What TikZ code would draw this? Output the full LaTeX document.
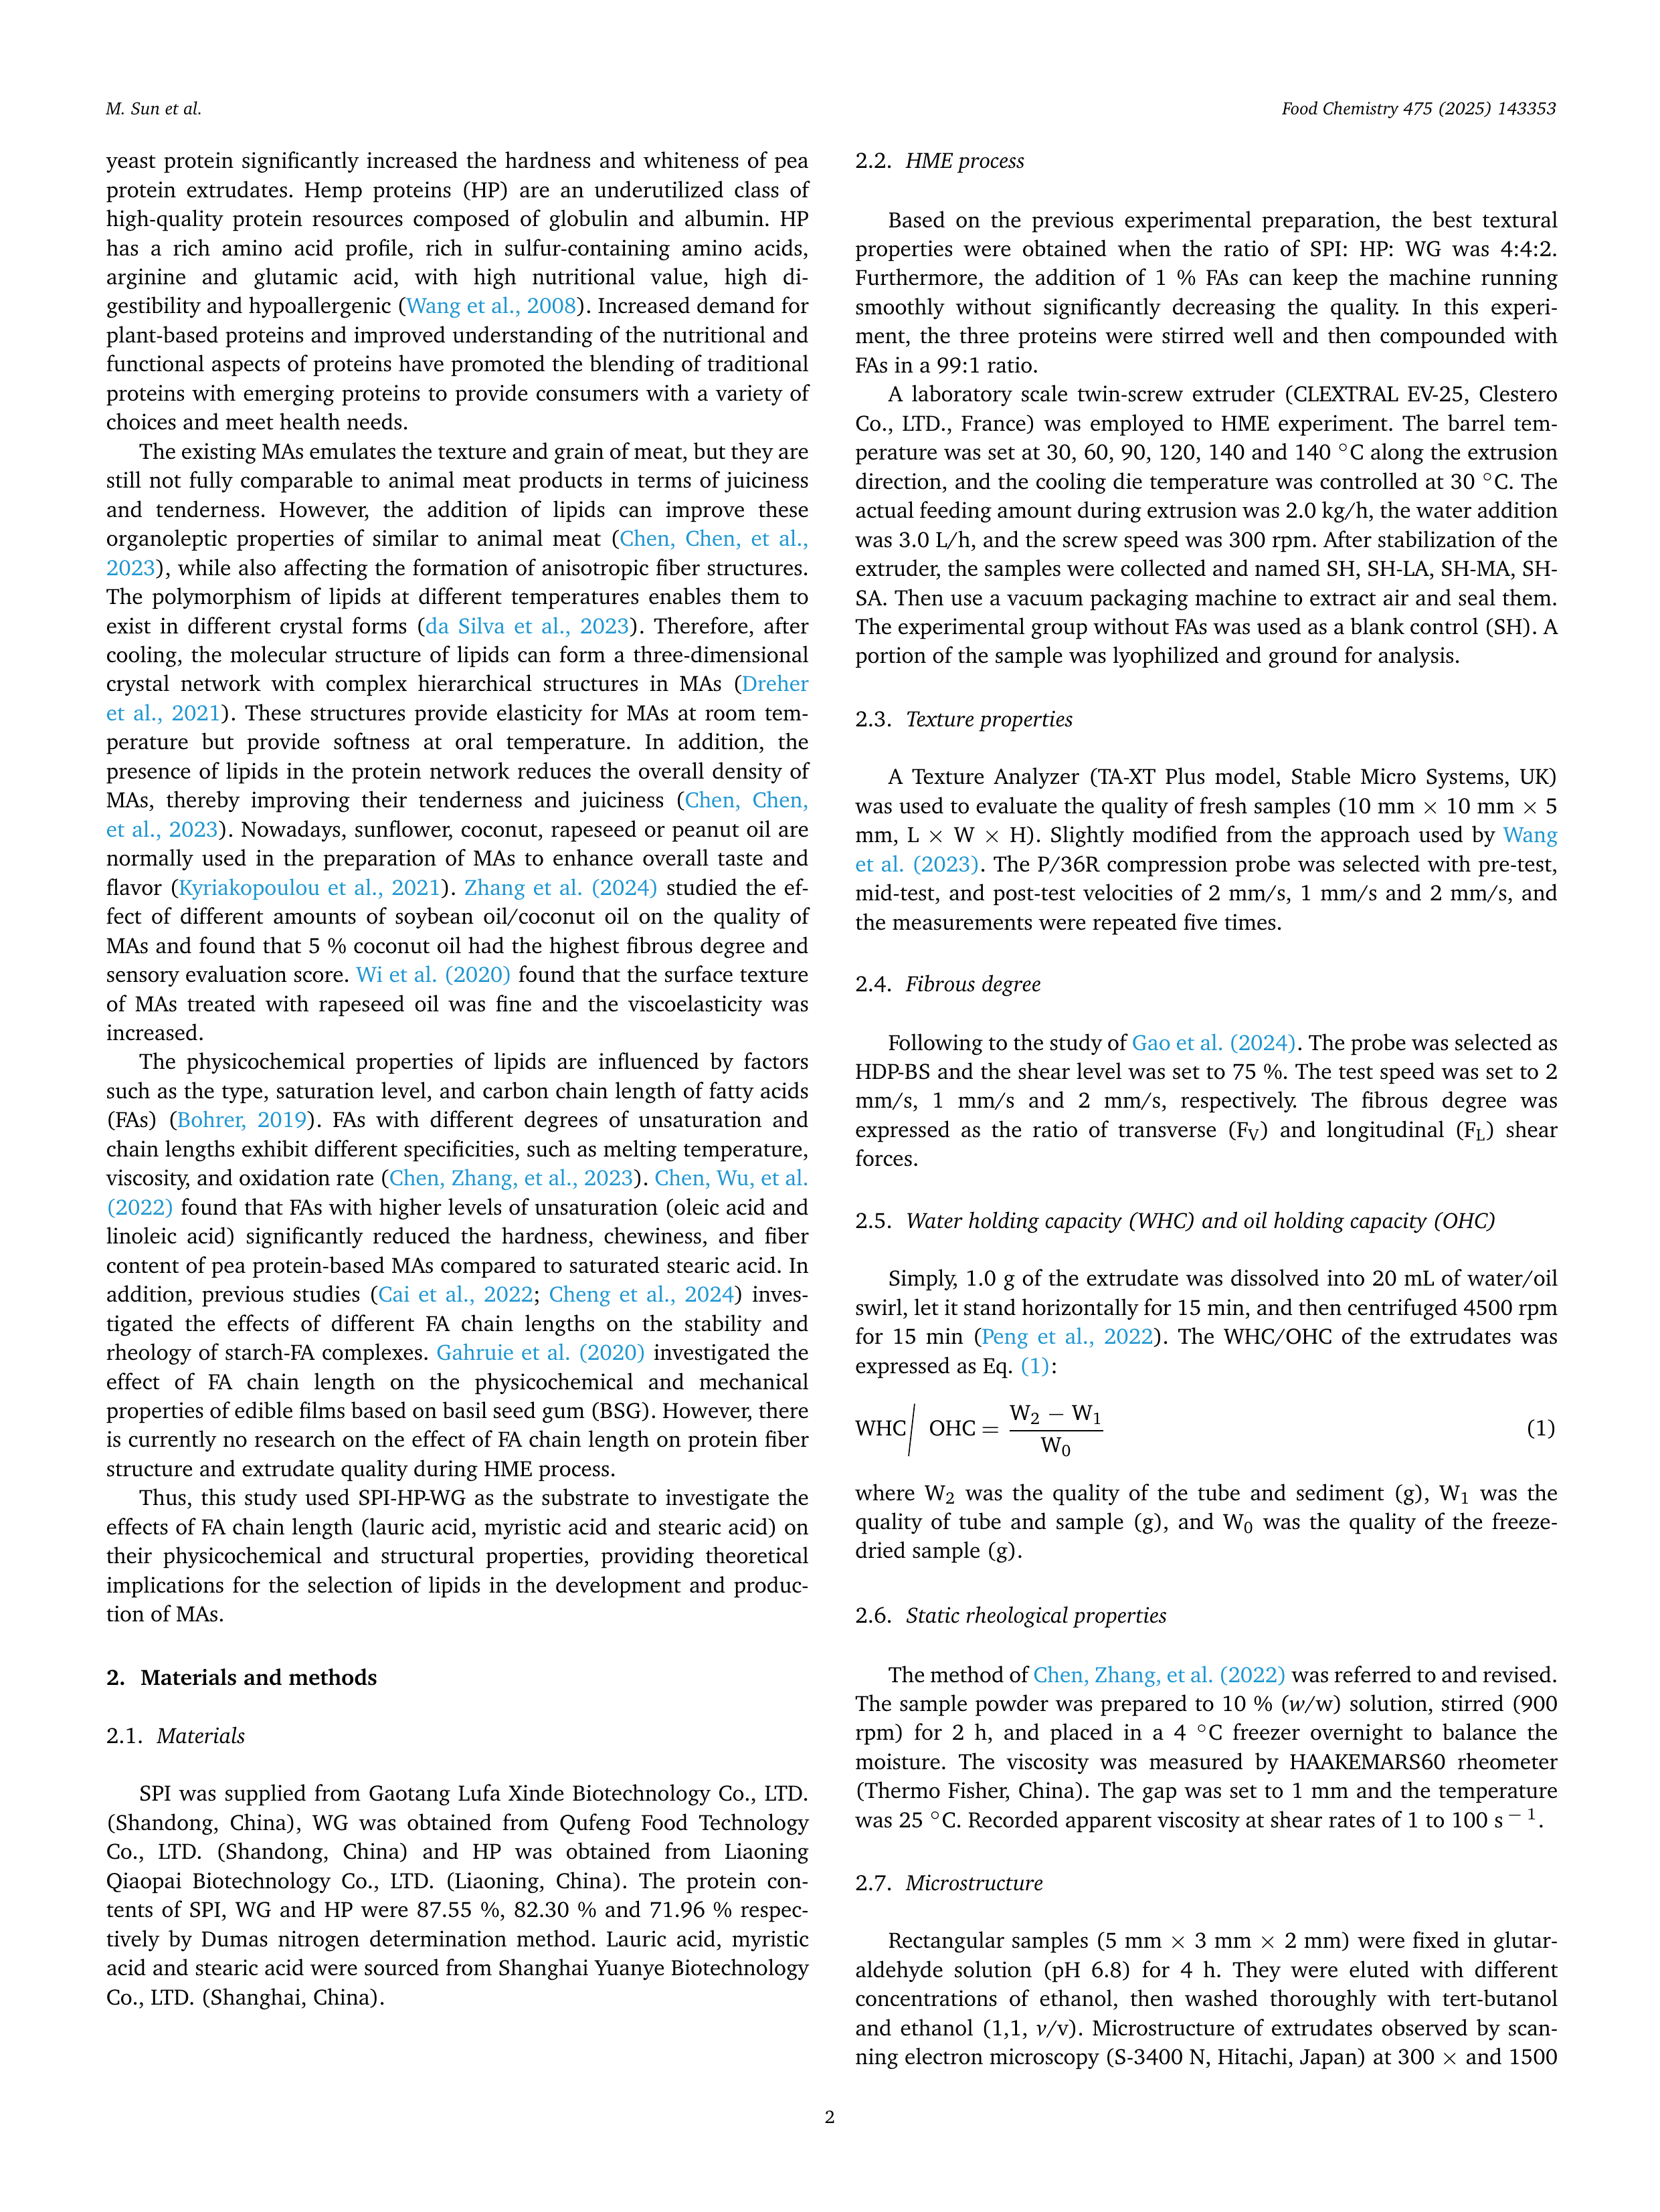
\documentclass[tikz,border=0pt]{standalone}
\usepackage[T1]{fontenc}
\usepackage{charter}
\usepackage{xcolor}
\definecolor{linkblue}{RGB}{30,150,210}
\newlength\colw
\setlength\colw{8.89cm}
\newcommand\jl[1]{\hbox to\colw{#1}}
\newcommand\el[1]{\hbox to\colw{#1\hfil}}
\newcommand\parin{\hspace*{0.418cm}}
\newcommand\lk[1]{\textcolor{linkblue}{#1}}
\newcommand\bodyfont{\fontsize{8}{10.47}\selectfont\frenchspacing}
\newcommand\subnum[1]{\makebox[0.645cm][l]{#1}}
\newcommand\secnum[1]{\makebox[0.436cm][l]{#1}}
\newcommand\divslash{\raisebox{-7.2pt}{\rotatebox{-6.5}{\rule{0.4pt}{19pt}}}}

\begin{document}
\begin{tikzpicture}[body/.style={anchor=base west,inner sep=0pt,font=\bodyfont},runhead/.style={inner sep=0pt,font=\fontsize{6.4}{8}\selectfont\itshape}]

\fill[white] (0,0) rectangle (21,-28);
\useasboundingbox (0,0) rectangle (21,-28);

\node[runhead,anchor=base west] (authors) at (1.338,-1.454) {M. Sun et al.};
\node[runhead,anchor=base east] (journal) at (19.707,-1.454) {Food Chemistry 475 (2025) 143353};

\node[body] (intro) at (1.338,-2.131) {\vtop{%
\jl{yeast protein significantly increased the hardness and whiteness of pea}
\jl{protein extrudates. Hemp proteins (HP) are an underutilized class of}
\jl{high-quality protein resources composed of globulin and albumin. HP}
\jl{has a rich amino acid profile, rich in sulfur-containing amino acids,}
\jl{arginine and glutamic acid, with high nutritional value, high di-}
\jl{gestibility and hypoallergenic (\lk{Wang et al., 2008}). Increased demand for}
\jl{plant-based proteins and improved understanding of the nutritional and}
\jl{functional aspects of proteins have promoted the blending of traditional}
\jl{proteins with emerging proteins to provide consumers with a variety of}
\el{choices and meet health needs.}
\jl{\parin The existing MAs emulates the texture and grain of meat, but they are}
\jl{still not fully comparable to animal meat products in terms of juiciness}
\jl{and tenderness. However, the addition of lipids can improve these}
\jl{organoleptic properties of similar to animal meat (\lk{Chen, Chen, et al.,}}
\jl{\lk{2023}), while also affecting the formation of anisotropic fiber structures.}
\jl{The polymorphism of lipids at different temperatures enables them to}
\jl{exist in different crystal forms (\lk{da Silva et al., 2023}). Therefore, after}
\jl{cooling, the molecular structure of lipids can form a three-dimensional}
\jl{crystal network with complex hierarchical structures in MAs (\lk{Dreher}}
\jl{\lk{et al., 2021}). These structures provide elasticity for MAs at room tem-}
\jl{perature but provide softness at oral temperature. In addition, the}
\jl{presence of lipids in the protein network reduces the overall density of}
\jl{MAs, thereby improving their tenderness and juiciness (\lk{Chen, Chen,}}
\jl{\lk{et al., 2023}). Nowadays, sunflower, coconut, rapeseed or peanut oil are}
\jl{normally used in the preparation of MAs to enhance overall taste and}
\jl{flavor (\lk{Kyriakopoulou et al., 2021}). \lk{Zhang et al. (2024)} studied the ef-}
\jl{fect of different amounts of soybean oil/coconut oil on the quality of}
\jl{MAs and found that 5 \% coconut oil had the highest fibrous degree and}
\jl{sensory evaluation score. \lk{Wi et al. (2020)} found that the surface texture}
\jl{of MAs treated with rapeseed oil was fine and the viscoelasticity was}
\el{increased.}
\jl{\parin The physicochemical properties of lipids are influenced by factors}
\jl{such as the type, saturation level, and carbon chain length of fatty acids}
\jl{(FAs) (\lk{Bohrer, 2019}). FAs with different degrees of unsaturation and}
\jl{chain lengths exhibit different specificities, such as melting temperature,}
\jl{viscosity, and oxidation rate (\lk{Chen, Zhang, et al., 2023}). \lk{Chen, Wu, et al.}}
\jl{\lk{(2022)} found that FAs with higher levels of unsaturation (oleic acid and}
\jl{linoleic acid) significantly reduced the hardness, chewiness, and fiber}
\jl{content of pea protein-based MAs compared to saturated stearic acid. In}
\jl{addition, previous studies (\lk{Cai et al., 2022}; \lk{Cheng et al., 2024}) inves-}
\jl{tigated the effects of different FA chain lengths on the stability and}
\jl{rheology of starch-FA complexes. \lk{Gahruie et al. (2020)} investigated the}
\jl{effect of FA chain length on the physicochemical and mechanical}
\jl{properties of edible films based on basil seed gum (BSG). However, there}
\jl{is currently no research on the effect of FA chain length on protein fiber}
\el{structure and extrudate quality during HME process.}
\jl{\parin Thus, this study used SPI-HP-WG as the substrate to investigate the}
\jl{effects of FA chain length (lauric acid, myristic acid and stearic acid) on}
\jl{their physicochemical and structural properties, providing theoretical}
\jl{implications for the selection of lipids in the development and produc-}
\el{tion of MAs.}}};

\node[body] (sec2) at (1.338,-21.332) {\bfseries\secnum{2.}Materials and methods};
\node[body] (sub21) at (1.338,-22.072) {\subnum{2.1.}\textit{Materials}};
\node[body] (materials) at (1.338,-22.801) {\vtop{%
\jl{\parin SPI was supplied from Gaotang Lufa Xinde Biotechnology Co., LTD.}
\jl{(Shandong, China), WG was obtained from Qufeng Food Technology}
\jl{Co., LTD. (Shandong, China) and HP was obtained from Liaoning}
\jl{Qiaopai Biotechnology Co., LTD. (Liaoning, China). The protein con-}
\jl{tents of SPI, WG and HP were 87.55 \%, 82.30 \% and 71.96 \% respec-}
\jl{tively by Dumas nitrogen determination method. Lauric acid, myristic}
\jl{acid and stearic acid were sourced from Shanghai Yuanye Biotechnology}
\el{Co., LTD. (Shanghai, China).}}};

\node[body] (sub22) at (10.817,-2.131) {\subnum{2.2.}\textit{HME process}};
\node[body] (hme) at (10.817,-2.879) {\vtop{%
\jl{\parin Based on the previous experimental preparation, the best textural}
\jl{properties were obtained when the ratio of SPI: HP: WG was 4:4:2.}
\jl{Furthermore, the addition of 1 \% FAs can keep the machine running}
\jl{smoothly without significantly decreasing the quality. In this experi-}
\jl{ment, the three proteins were stirred well and then compounded with}
\el{FAs in a 99:1 ratio.}
\jl{\parin A laboratory scale twin-screw extruder (CLEXTRAL EV-25, Clestero}
\jl{Co., LTD., France) was employed to HME experiment. The barrel tem-}
\jl{perature was set at 30, 60, 90, 120, 140 and 140 $^{\circ}$C along the extrusion}
\jl{direction, and the cooling die temperature was controlled at 30 $^{\circ}$C. The}
\jl{actual feeding amount during extrusion was 2.0 kg/h, the water addition}
\jl{was 3.0 L/h, and the screw speed was 300 rpm. After stabilization of the}
\jl{extruder, the samples were collected and named SH, SH-LA, SH-MA, SH-}
\jl{SA. Then use a vacuum packaging machine to extract air and seal them.}
\jl{The experimental group without FAs was used as a blank control (SH). A}
\el{portion of the sample was lyophilized and ground for analysis.}}};

\node[body] (sub23) at (10.817,-9.201) {\subnum{2.3.}\textit{Texture properties}};
\node[body] (texture) at (10.817,-9.931) {\vtop{%
\jl{\parin A Texture Analyzer (TA-XT Plus model, Stable Micro Systems, UK)}
\jl{was used to evaluate the quality of fresh samples (10 mm $\times$ 10 mm $\times$ 5}
\jl{mm, L $\times$ W $\times$ H). Slightly modified from the approach used by \lk{Wang}}
\jl{\lk{et al. (2023)}. The P/36R compression probe was selected with pre-test,}
\jl{mid-test, and post-test velocities of 2 mm/s, 1 mm/s and 2 mm/s, and}
\el{the measurements were repeated five times.}}};

\node[body] (sub24) at (10.817,-12.556) {\subnum{2.4.}\textit{Fibrous degree}};
\node[body] (fibrous) at (10.817,-13.293) {\vtop{%
\jl{\parin Following to the study of \lk{Gao et al. (2024)}. The probe was selected as}
\jl{HDP-BS and the shear level was set to 75 \%. The test speed was set to 2}
\jl{mm/s, 1 mm/s and 2 mm/s, respectively. The fibrous degree was}
\jl{expressed as the ratio of transverse (F\textsubscript{V}) and longitudinal (F\textsubscript{L}) shear}
\el{forces.}}};

\node[body] (sub25) at (10.817,-15.551) {\subnum{2.5.}\textit{Water holding capacity (WHC) and oil holding capacity (OHC)}};
\node[body] (holding) at (10.817,-16.281) {\vtop{%
\jl{\parin Simply, 1.0 g of the extrudate was dissolved into 20 mL of water/oil}
\jl{swirl, let it stand horizontally for 15 min, and then centrifuged 4500 rpm}
\jl{for 15 min (\lk{Peng et al., 2022}). The WHC/OHC of the extrudates was}
\el{expressed as Eq. \lk{(1)}:}}};

\node[body] (eq) at (10.817,-18.178) {WHC\hspace{0.6pt}\divslash\hspace{5pt}OHC\hspace{2pt}$=$\hspace{2.5pt}$\displaystyle\frac{\mbox{W\textsubscript{2} $-$ W\textsubscript{1}}}{\mbox{W\textsubscript{0}}}$};
\node[body,anchor=base east] (eqnum) at (19.707,-18.178) {(1)};

\node[body] (where) at (10.817,-18.991) {\vtop{%
\jl{where W\textsubscript{2} was the quality of the tube and sediment (g), W\textsubscript{1} was the}
\jl{quality of tube and sample (g), and W\textsubscript{0} was the quality of the freeze-}
\el{dried sample (g).}}};

\node[body] (sub26) at (10.817,-20.546) {\subnum{2.6.}\textit{Static rheological properties}};
\node[body] (rheology) at (10.817,-21.294) {\vtop{%
\jl{\parin The method of \lk{Chen, Zhang, et al. (2022)} was referred to and revised.}
\jl{The sample powder was prepared to 10 \% (\textit{w}/w) solution, stirred (900}
\jl{rpm) for 2 h, and placed in a 4 $^{\circ}$C freezer overnight to balance the}
\jl{moisture. The viscosity was measured by HAAKEMARS60 rheometer}
\jl{(Thermo Fisher, China). The gap was set to 1 mm and the temperature}
\el{was 25 $^{\circ}$C. Recorded apparent viscosity at shear rates of 1 to 100 s\,$^{-\,1}$.}}};

\node[body] (sub27) at (10.817,-23.933) {\subnum{2.7.}\textit{Microstructure}};
\node[body] (micro) at (10.817,-24.663) {\vtop{%
\jl{\parin Rectangular samples (5 mm $\times$ 3 mm $\times$ 2 mm) were fixed in glutar-}
\jl{aldehyde solution (pH 6.8) for 4 h. They were eluted with different}
\jl{concentrations of ethanol, then washed thoroughly with tert-butanol}
\jl{and ethanol (1,1, \textit{v}/v). Microstructure of extrudates observed by scan-}
\jl{ning electron microscopy (S-3400 N, Hitachi, Japan) at 300 $\times$ and 1500}}};

\node[body,anchor=base,font=\fontsize{6.6}{8}\selectfont] (page) at (10.5,-26.882) {2};

\end{tikzpicture}
\end{document}
